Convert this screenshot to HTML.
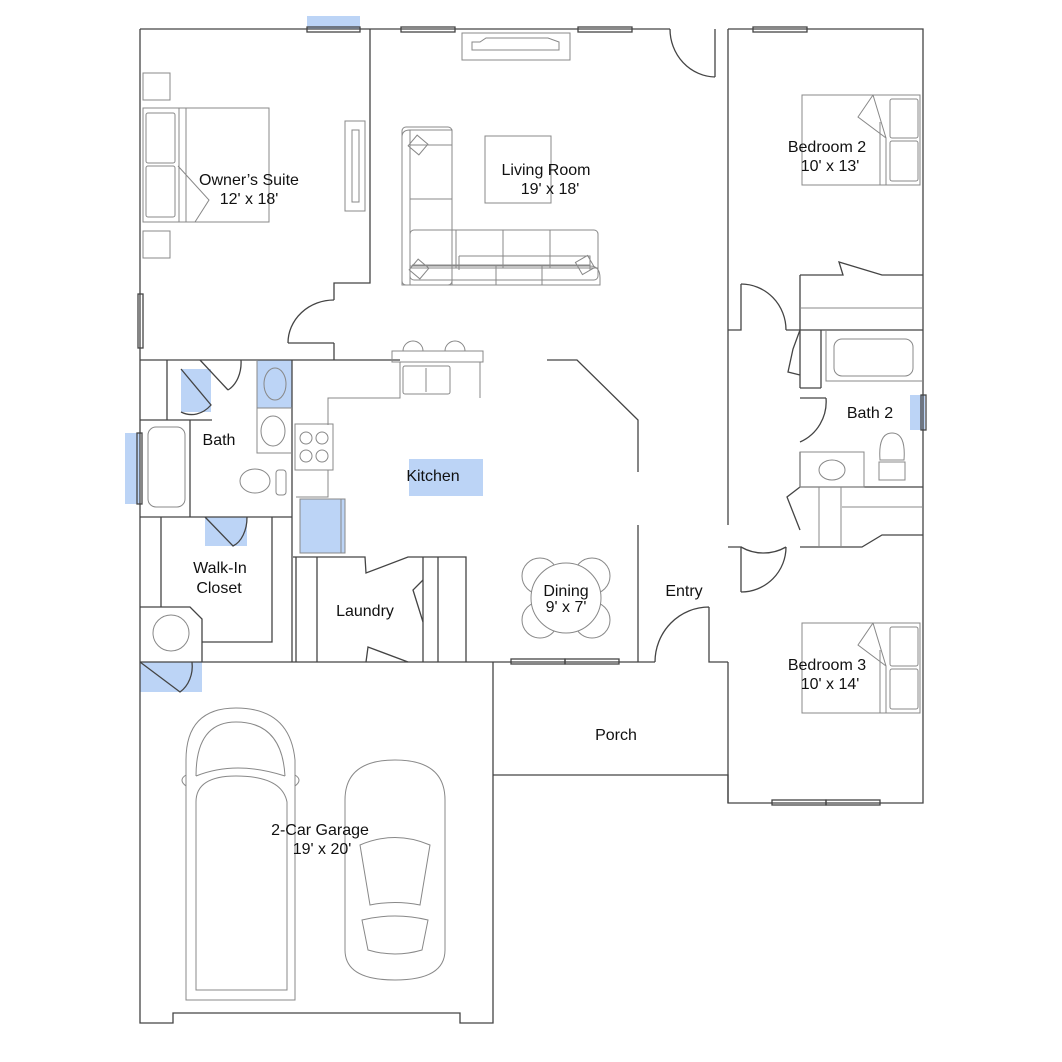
<!DOCTYPE html>
<html><head><meta charset="utf-8"><style>
html,body{margin:0;padding:0;background:#fff}
svg{display:block}
text{font-family:"Liberation Sans",Arial,sans-serif;font-size:16px;fill:#111}
.w{stroke:#444;stroke-width:1.3;fill:none}
.f{stroke:#888;stroke-width:1;fill:none}
.b{fill:#bcd4f6;stroke:none}
</style></head><body>
<svg width="1062" height="1062" viewBox="0 0 1062 1062" xmlns="http://www.w3.org/2000/svg">
<!-- blue fills -->
<rect class="b" x="307" y="16" width="53" height="13"/>
<rect class="b" x="181" y="369" width="30" height="43"/>
<rect class="b" x="257" y="360" width="35" height="48"/>
<rect class="b" x="125" y="433" width="15" height="71"/>
<rect class="b" x="205" y="517" width="42" height="29"/>
<rect class="b" x="140" y="662" width="62" height="30"/>
<rect class="b" x="300" y="499" width="45" height="54"/>
<rect class="b" x="409" y="459" width="74" height="37"/>
<rect class="b" x="910" y="395" width="15" height="35"/>

<!-- outer walls -->
<path class="w" d="M140 29 H670 M715 77 V29 M728 29 H923 V803 H728 V662 M728 525 V470 M728 29 V470 M140 29 V1023 H173 V1013 H460 V1023 H493 V662"/>
<path class="w" d="M670 29 A46 48 0 0 0 715 77"/>
<!-- owner's suite -->
<path class="w" d="M370 29 V283 H334 V300 M334 343 H288 M334 343 V360 M140 360 H400"/>
<path class="w" d="M334 300 A46 43 0 0 0 288 343"/>
<!-- bath -->
<path class="w" d="M167 360 V420 M140 420 H212 M190 420 V517 M140 517 H292 M292 360 V662 M296 557 V662 M200 360 L228 390 M241 360 A22 30 0 0 1 228 390"/>
<path class="w" d="M181 412 A30 40 0 0 0 211 405 L181 369" stroke="#335"/>
<path class="f" d="M257 360 V453 H292 M257 408 H292"/>
<ellipse class="f" cx="275" cy="384" rx="11" ry="16"/>
<ellipse class="f" cx="273" cy="431" rx="12" ry="15"/>
<rect class="f" x="148" y="427" width="37" height="80" rx="8"/>
<rect class="w" x="137" y="433" width="5" height="71"/>
<ellipse class="f" cx="255" cy="481" rx="15" ry="12"/>
<rect class="f" x="276" y="470" width="10" height="25" rx="3"/>
<path class="w" d="M205 517 L233 546 A20 30 0 0 0 247 517" stroke="#335"/>
<!-- walk-in closet -->
<path class="w" d="M161 517 V607 M272 517 V642 H202 M140 607 H190 L202 619 V662 M140 662 H492"/>
<circle class="f" cx="171" cy="633" r="18"/>
<path class="w" d="M140 662 L180 692 A25 30 0 0 0 192 662" stroke="#335"/>
<!-- window frames -->
<rect class="w" x="307" y="27" width="53" height="5"/>
<rect class="w" x="401" y="27" width="54" height="5"/>
<rect class="w" x="578" y="27" width="54" height="5"/>
<rect class="w" x="138" y="294" width="5" height="54"/>
<rect class="w" x="753" y="27" width="54" height="5"/>
<rect class="w" x="772" y="800" width="54" height="5"/>
<rect class="w" x="826" y="800" width="54" height="5"/>
<rect class="w" x="511" y="659" width="54" height="5"/>
<rect class="w" x="565" y="659" width="54" height="5"/>
<rect class="w" x="921" y="395" width="5" height="35"/>
<!-- fireplace -->
<rect class="f" x="462" y="33" width="108" height="27"/>
<path class="f" d="M472 42 H480 L486 38 H548 L559 42 V50 H472 Z"/>
<!-- owner's furniture -->
<rect class="f" x="143" y="73" width="27" height="27"/>
<rect class="f" x="143" y="231" width="27" height="27"/>
<rect class="f" x="143" y="108" width="126" height="114"/>
<rect class="f" x="146" y="113" width="29" height="50" rx="2"/>
<rect class="f" x="146" y="166" width="29" height="51" rx="2"/>
<path class="f" d="M179 108 V222 M186 108 V222 M178 166 L209 200 L195 222"/>
<rect class="f" x="345" y="121" width="20" height="90"/>
<rect class="f" x="352" y="130" width="7" height="72"/>
<!-- sofa -->
<path class="f" d="M402 137 Q402 130 410 130 H452 V285 H402 Z M410 130 V285 M402 177 V285 M410 145 H452 M410 199 H452 M410 266 H452 M452 266 H590 Q600 266 600 278 V285 H402 M452 285 V266 M496 266 V285 M542 266 V285 M459 256 H590 V270 M412 265 H590 M459 270 V256"/>
<rect class="f" x="402" y="127" width="50" height="158" rx="4"/>
<rect class="f" x="410" y="230" width="188" height="50" rx="4"/>
<path class="f" d="M456 230 V268 M503 230 V268 M550 230 V268 M410 268 H598"/>
<rect class="f" x="411" y="138" width="14" height="14" transform="rotate(40 418 145)"/>
<rect class="f" x="412" y="262" width="14" height="14" transform="rotate(40 419 269)"/>
<rect class="f" x="578" y="258" width="14" height="14" transform="rotate(-30 585 265)"/>
<rect class="f" x="485" y="136" width="66" height="67"/>
<!-- kitchen -->
<path class="f" d="M403 351 A10 10 0 0 1 423 351 M445 351 A10 10 0 0 1 465 351"/>
<rect class="f" x="392" y="351" width="91" height="11"/>
<path class="f" d="M400 362 V398 H328 V425 M480 362 V398 M296 470 H328 V497 H296"/>
<rect class="f" x="403" y="366" width="47" height="28" rx="2"/>
<path class="f" d="M426 368 V392"/>
<rect class="f" x="295" y="424" width="38" height="46"/>
<circle class="f" cx="306" cy="438" r="6"/><circle class="f" cx="322" cy="438" r="6"/>
<circle class="f" cx="306" cy="456" r="6"/><circle class="f" cx="322" cy="456" r="6"/>
<rect class="f" x="300" y="499" width="45" height="54"/>
<path class="f" d="M341 499 V553"/>
<path class="w" d="M547 360 H577 L638 420 V472 M638 525 V662 M655 662 H492"/>
<!-- laundry -->
<path class="w" d="M293 557 H365 L366 573 L408 557 H466 V662 M423 557 V662 M438 557 V662 M317 557 V662 M366 662 L368 647 L408 662"/>
<path class="w" d="M423 580 L413 590 L423 622"/>
<!-- dining -->
<circle class="f" cx="540" cy="576" r="18"/><circle class="f" cx="592" cy="576" r="18"/>
<circle class="f" cx="540" cy="620" r="18"/><circle class="f" cx="592" cy="620" r="18"/>
<circle cx="566" cy="598" r="35" fill="#fff" stroke="#888"/>
<!-- entry -->
<path class="w" d="M709 607 V662 H728 M655 662 A54 55 0 0 1 709 607"/>
<!-- porch -->
<path class="w" d="M493 775 H728 V803"/>
<!-- right column -->
<path class="w" d="M728 330 H741 V284 M786 330 H923 M800 275 H843 L839 262 L882 275 H923 M800 275 V388 M821 330 V388 M800 388 H821 M800 398 H826 M800 452 V487 M800 487 H923 M800 547 H862 L862 547 L882 535 L923 535 M728 547 H741 V592"/>
<path class="w" d="M741 284 A45 46 0 0 1 786 330 M826 398 A44 44 0 0 1 800 442 M741 547 A45 45 0 0 0 786 547 M741 592 A45 45 0 0 0 786 547"/>
<path class="w" d="M800 330 L793 349 L788 372 L800 375 M800 487 L787 497 L800 530"/>
<path class="f" d="M800 308 H923 M826 330 V381 H923 M819 487 V547 M841 487 V547 M842 507 H923"/>
<rect class="f" x="834" y="339" width="79" height="37" rx="8"/>
<rect class="f" x="800" y="452" width="64" height="35"/>
<ellipse class="f" cx="832" cy="470" rx="13" ry="10"/>
<path class="f" d="M880 460 Q878 433 892 433 Q906 433 904 460 Z M879 462 H905 V480 H879 Z"/>
<!-- bedrooms -->
<rect class="f" x="802" y="95" width="118" height="90"/>
<rect class="f" x="890" y="99" width="28" height="39" rx="2"/>
<rect class="f" x="890" y="141" width="28" height="40" rx="2"/>
<path class="f" d="M873 95 L858 117 L886 138 V185 M880 122 V185 M873 95 L886 138"/>
<rect class="f" x="802" y="623" width="118" height="90"/>
<rect class="f" x="890" y="627" width="28" height="39" rx="2"/>
<rect class="f" x="890" y="669" width="28" height="40" rx="2"/>
<path class="f" d="M873 623 L858 645 L886 666 V713 M880 650 V713 M873 623 L886 666"/>
<!-- garage cars -->
<path class="f" d="M186 1000 V760 Q186 708 236 708 Q290 708 295 760 V1000 Z M196 990 V802 Q196 776 236 776 Q282 776 287 802 V990 Z M196 776 Q196 722 236 722 Q282 722 285 776 M196 776 Q236 760 285 776"/>
<path class="f" d="M186 775 Q178 780 186 786 M295 775 Q303 780 295 786"/>
<path class="f" d="M345 800 Q345 760 395 760 Q445 760 445 800 V950 Q445 980 395 980 Q345 980 345 950 Z M360 845 Q395 830 430 845 L420 905 Q395 900 370 905 Z M362 920 Q395 912 428 920 L422 950 Q395 958 368 950 Z"/>
<!-- labels -->
<text x="249" y="185" text-anchor="middle">Owner’s Suite</text>
<text x="249" y="204" text-anchor="middle">12' x 18'</text>
<text x="546" y="175" text-anchor="middle">Living Room</text>
<text x="550" y="194" text-anchor="middle">19' x 18'</text>
<text x="827" y="152" text-anchor="middle">Bedroom 2</text>
<text x="830" y="171" text-anchor="middle">10' x 13'</text>
<text x="219" y="445" text-anchor="middle">Bath</text>
<text x="870" y="418" text-anchor="middle">Bath 2</text>
<text x="433" y="481" text-anchor="middle">Kitchen</text>
<text x="220" y="573" text-anchor="middle">Walk-In</text>
<text x="219" y="593" text-anchor="middle">Closet</text>
<text x="365" y="616" text-anchor="middle">Laundry</text>
<text x="566" y="596" text-anchor="middle">Dining</text>
<text x="566" y="612" text-anchor="middle">9' x 7'</text>
<text x="684" y="596" text-anchor="middle">Entry</text>
<text x="827" y="670" text-anchor="middle">Bedroom 3</text>
<text x="830" y="689" text-anchor="middle">10' x 14'</text>
<text x="616" y="740" text-anchor="middle">Porch</text>
<text x="320" y="835" text-anchor="middle">2-Car Garage</text>
<text x="322" y="854" text-anchor="middle">19' x 20'</text>
</svg>
</body></html>
